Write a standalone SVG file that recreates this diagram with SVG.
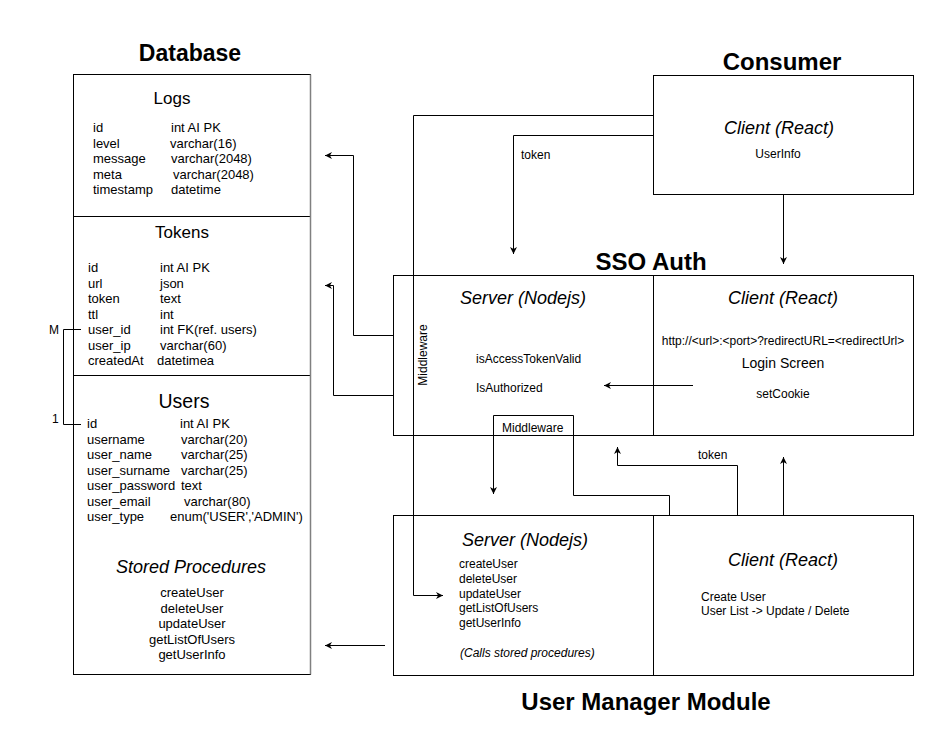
<svg xmlns="http://www.w3.org/2000/svg" width="940" height="741" viewBox="0 0 940 741">
<style>
  .box { fill: #ffffff; stroke: #000000; stroke-width: 1; }
  .ln { fill: none; stroke: #000000; stroke-width: 1; }
  .t { font-family: "Liberation Sans", Arial, sans-serif; fill: #000000; }
  .title { font-family: "Liberation Sans", Arial, sans-serif; font-weight: bold; font-size: 24px; fill: #000000; text-anchor: middle; }
  .h17 { font-size: 17px; text-anchor: middle; }
  .it18 { font-size: 18px; font-style: italic; text-anchor: middle; }
  .f13 { font-size: 13px; }
  .f12 { font-size: 12px; }
  .f14 { font-size: 14px; }
  .mid { text-anchor: middle; }
</style>
<defs>
  <marker id="arr" viewBox="0 0 10 10" refX="10" refY="5" markerWidth="8" markerHeight="7" markerUnits="userSpaceOnUse" orient="auto">
    <path d="M0,0 L10,5 L0,10 L3,5 z" fill="#000000"/>
  </marker>
</defs>
<rect width="940" height="741" fill="#ffffff"/>

<!-- Titles -->
<g id="titles">
  <text class="title" x="190" y="61" style="font-size:23px">Database</text>
  <text class="title" x="782" y="70">Consumer</text>
  <text class="title" x="651" y="270">SSO Auth</text>
  <text class="title" x="646" y="710">User Manager Module</text>
</g>

<!-- Database -->
<g id="database">
  <rect class="box" x="73.5" y="74.5" width="237" height="600"/>
  <line class="ln" x1="73.5" y1="216.5" x2="310.5" y2="216.5"/>
  <line class="ln" x1="73.5" y1="375.5" x2="310.5" y2="375.5"/>
  <line x1="310.5" y1="74.5" x2="310.5" y2="674.5" stroke="#808080" stroke-width="1.5"/>
</g>

<g id="logs" class="t f13">
  <text class="t h17" x="172" y="104">Logs</text>
  <text class="t f13" x="93" y="132">id</text><text class="t f13" x="171" y="132">int AI PK</text>
  <text class="t f13" x="93" y="147.5">level</text><text class="t f13" x="170" y="147.5">varchar(16)</text>
  <text class="t f13" x="93" y="163">message</text><text class="t f13" x="171" y="163">varchar(2048)</text>
  <text class="t f13" x="93" y="178.5">meta</text><text class="t f13" x="173" y="178.5">varchar(2048)</text>
  <text class="t f13" x="93" y="194">timestamp</text><text class="t f13" x="171" y="194">datetime</text>
</g>

<g id="tokens">
  <text class="t h17" x="182" y="238">Tokens</text>
  <text class="t f13" x="88" y="272">id</text><text class="t f13" x="160" y="272">int AI PK</text>
  <text class="t f13" x="88" y="287.5">url</text><text class="t f13" x="160" y="287.5">json</text>
  <text class="t f13" x="88" y="303">token</text><text class="t f13" x="160" y="303">text</text>
  <text class="t f13" x="88" y="318.5">ttl</text><text class="t f13" x="160" y="318.5">int</text>
  <text class="t f13" x="88" y="334">user_id</text><text class="t f13" x="160" y="334">int FK(ref. users)</text>
  <text class="t f13" x="88" y="349.5">user_ip</text><text class="t f13" x="160" y="349.5">varchar(60)</text>
  <text class="t f13" x="88" y="365">createdAt</text><text class="t f13" x="157" y="365">datetimea</text>
</g>

<g id="users">
  <text class="t" x="184" y="408" style="font-size:19.5px;text-anchor:middle">Users</text>
  <text class="t f13" x="87" y="428">id</text><text class="t f13" x="180" y="428">int AI PK</text>
  <text class="t f13" x="87" y="443.5">username</text><text class="t f13" x="181" y="443.5">varchar(20)</text>
  <text class="t f13" x="87" y="459">user_name</text><text class="t f13" x="181" y="459">varchar(25)</text>
  <text class="t f13" x="87" y="474.5">user_surname</text><text class="t f13" x="181" y="474.5">varchar(25)</text>
  <text class="t f13" x="87" y="490">user_password</text><text class="t f13" x="181" y="490">text</text>
  <text class="t f13" x="87" y="505.5">user_email</text><text class="t f13" x="184" y="505.5">varchar(80)</text>
  <text class="t f13" x="87" y="521">user_type</text><text class="t f13" x="170" y="521">enum('USER','ADMIN')</text>
  <text class="t it18" x="191" y="573">Stored Procedures</text>
  <text class="t f13 mid" x="192" y="597">createUser</text>
  <text class="t f13 mid" x="192" y="612.5">deleteUser</text>
  <text class="t f13 mid" x="192" y="628">updateUser</text>
  <text class="t f13 mid" x="192" y="643.5">getListOfUsers</text>
  <text class="t f13 mid" x="192" y="659">getUserInfo</text>
</g>

<!-- Consumer -->
<g id="consumer-client">
  <rect class="box" x="653.5" y="75.5" width="260" height="119"/>
  <text class="t it18" x="779" y="134">Client (React)</text>
  <text class="t f12 mid" x="778" y="158">UserInfo</text>
</g>

<!-- SSO Auth -->
<g id="sso-server">
  <rect class="box" x="393.5" y="275.5" width="260" height="160"/>
  <text class="t it18" x="523" y="304">Server (Nodejs)</text>
  <text class="t f12" x="476" y="363">isAccessTokenValid</text>
  <text class="t f12" x="476" y="392">IsAuthorized</text>
</g>
<g id="sso-client">
  <rect class="box" x="653.5" y="275.5" width="260" height="160"/>
  <text class="t it18" x="783" y="304">Client (React)</text>
  <text class="t f12 mid" x="783" y="345">http://&lt;url&gt;:&lt;port&gt;?redirectURL=&lt;redirectUrl&gt;</text>
  <text class="t f14 mid" x="783" y="368">Login Screen</text>
  <text class="t f12 mid" x="783" y="398">setCookie</text>
</g>

<!-- User Manager Module -->
<g id="um-server">
  <rect class="box" x="393.5" y="515.5" width="260" height="160"/>
  <text class="t it18" x="525" y="546">Server (Nodejs)</text>
  <text class="t f12" x="459" y="568">createUser</text>
  <text class="t f12" x="459" y="583">deleteUser</text>
  <text class="t f12" x="459" y="598">updateUser</text>
  <text class="t f12" x="459" y="612">getListOfUsers</text>
  <text class="t f12" x="459" y="627">getUserInfo</text>
  <text class="t f12" x="460" y="657" style="font-style:italic">(Calls stored procedures)</text>
</g>
<g id="um-client">
  <rect class="box" x="653.5" y="515.5" width="260" height="160"/>
  <text class="t it18" x="783" y="566">Client (React)</text>
  <text class="t f12" x="701" y="601">Create User</text>
  <text class="t f12" x="701" y="615">User List -&gt; Update / Delete</text>
</g>

<!-- Connectors -->
<g id="connectors">
  <polyline class="ln" points="393.5,335.5 353.5,335.5 353.5,155.5 325,155.5" marker-end="url(#arr)"/>
  <polyline class="ln" points="393.5,395.5 333.5,395.5 333.5,285.5 325,285.5" marker-end="url(#arr)"/>
  <polyline class="ln" points="653.5,135.5 513.5,135.5 513.5,254" marker-end="url(#arr)"/>
  <text class="t f12" x="521" y="159">token</text>
  <polyline class="ln" points="653.5,115.5 413.5,115.5 413.5,595.5 443,595.5" marker-end="url(#arr)"/>
  <text class="t f12 mid" transform="translate(427,355) rotate(-90)">Middleware</text>
  <line class="ln" x1="783.5" y1="194.5" x2="783.5" y2="264" marker-end="url(#arr)"/>
  <line class="ln" x1="693" y1="385.5" x2="604" y2="385.5" marker-end="url(#arr)"/>
  <polyline class="ln" points="669.5,515.5 669.5,495.5 573.5,495.5 573.5,415.5 493.5,415.5 493.5,494" marker-end="url(#arr)"/>
  <text class="t f12" x="502" y="432">Middleware</text>
  <polyline class="ln" points="737.5,515.5 737.5,465.5 617.5,465.5 617.5,447" marker-end="url(#arr)"/>
  <text class="t f12" x="698" y="459">token</text>
  <line class="ln" x1="783.5" y1="515.5" x2="783.5" y2="457" marker-end="url(#arr)"/>
  <line class="ln" x1="385" y1="645.5" x2="325" y2="645.5" marker-end="url(#arr)"/>
  <polyline class="ln" points="81,329.5 63.5,329.5 63.5,424.5 81,424.5"/>
  <text class="t f12" x="49" y="334">M</text>
  <text class="t f12" x="52" y="423">1</text>
</g>
</svg>
